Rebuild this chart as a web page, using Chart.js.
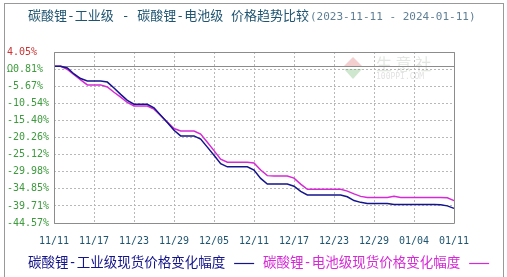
<!DOCTYPE html>
<html>
<head>
<meta charset="utf-8">
<script src="https://cdn.jsdelivr.net/npm/chart.js@4"></script>
<style>
  body { margin: 0; background: #fff; }
  #wrap { position: relative; width: 507px; height: 277px; overflow: hidden; }
  #frame { position: absolute; left: 4px; top: 3px; width: 498px; height: 300px; border: 1px solid #999; }
  canvas { position: absolute; left: 0; top: 0; }
</style>
</head>
<body>
<div id="wrap">
  <div id="frame"></div>
  <canvas id="priceTrend" width="507" height="277"></canvas>
</div>
<script>
// dates (one day missing in early January, as on the reference axis)
const dates = [
    "11/11", "11/12", "11/13", "11/14", "11/15", "11/16", "11/17", "11/18", "11/19", "11/20",
    "11/21", "11/22", "11/23", "11/24", "11/25", "11/26", "11/27", "11/28", "11/29", "11/30",
    "12/01", "12/02", "12/03", "12/04", "12/05", "12/06", "12/07", "12/08", "12/09", "12/10",
    "12/11", "12/12", "12/13", "12/14", "12/15", "12/16", "12/17", "12/18", "12/19", "12/20",
    "12/21", "12/22", "12/23", "12/24", "12/25", "12/26", "12/27", "12/28", "12/29", "12/30",
    "12/31", "01/01", "01/02", "01/03", "01/04", "01/05", "01/06", "01/08", "01/09", "01/10",
    "01/11"
];
// 碳酸锂-工业级 change %
const industrial = [
    0, 0, -0.5, -2.2, -3.5, -4.2, -4.2, -4.2, -4.5, -6.2,
    -8.0, -9.7, -10.8, -10.8, -10.8, -11.8, -13.9, -16.0, -18.2, -19.8,
    -19.8, -19.8, -20.7, -23.0, -25.3, -27.7, -28.6, -28.6, -28.6, -28.6,
    -29.5, -31.9, -33.5, -33.5, -33.5, -33.5, -34.1, -35.6, -36.6, -36.6,
    -36.6, -36.6, -36.6, -36.6, -37.1, -38.2, -38.7, -39.0, -39.0, -39.0,
    -39.0, -39.3, -39.3, -39.3, -39.3, -39.3, -39.3, -39.3, -39.4, -39.7,
    -40.4
];
// 碳酸锂-电池级 change %
const battery = [
    0, 0, -0.9, -2.4, -3.9, -5.3, -5.3, -5.3, -5.9, -7.4,
    -8.8, -10.3, -11.3, -11.3, -11.3, -12.2, -14.0, -15.9, -17.7, -18.4,
    -18.4, -18.4, -19.3, -21.6, -24.0, -26.4, -27.3, -27.3, -27.3, -27.3,
    -27.5, -29.5, -31.1, -31.2, -31.2, -31.2, -31.8, -33.5, -35.0, -35.0,
    -35.0, -35.0, -35.0, -35.0, -35.5, -36.3, -37.0, -37.3, -37.3, -37.3,
    -37.3, -37.0, -37.3, -37.3, -37.3, -37.3, -37.3, -37.3, -37.3, -37.4,
    -38.2
];
const yTicks = [4.05, -0.81, -5.67, -10.54, -15.40, -20.26, -25.12, -29.98, -34.85, -39.71, -44.57];
const yTickLabels = ["4.05%", "Ω0.81%", "-5.67%", "-10.54%", "-15.40%", "-20.26%", "-25.12%", "-29.98%", "-34.85%", "-39.71%", "-44.57%"];
const seriesNames = ["碳酸锂-工业级现货价格变化幅度", "碳酸锂-电池级现货价格变化幅度"];
const titleMain = "碳酸锂-工业级 - 碳酸锂-电池级 价格趋势比较";
const titleRange = "(2023-11-11 - 2024-01-11)";

const navy = "#14148c";
const magenta = "#d62ad6";
const mono = "'DejaVu Sans Mono', monospace";
const mixed = "'DejaVu Sans Mono', 'Noto Sans CJK SC', sans-serif";

// title, legend, frame, zero line and watermark
const decorPlugin = {
    id: "decor",
    beforeDatasetsDraw(chart) {
        const ctx = chart.ctx;
        const area = chart.chartArea;
        const y0 = chart.scales.y.getPixelForValue(0);
        ctx.save();
        // watermark
        ctx.globalAlpha = 0.25;
        ctx.fillStyle = "#d04040";
        ctx.beginPath();
        ctx.moveTo(344, 66); ctx.lineTo(353, 57); ctx.lineTo(362, 66); ctx.closePath(); ctx.fill();
        ctx.fillStyle = "#40a040";
        ctx.beginPath();
        ctx.moveTo(344, 69); ctx.lineTo(362, 69); ctx.lineTo(353, 79); ctx.closePath(); ctx.fill();
        ctx.fillStyle = "#8aa08a";
        ctx.font = "16px 'Noto Sans CJK SC'";
        ctx.textBaseline = "middle";
        ctx.fillText("生 意 社", 376, 64);
        ctx.fillStyle = "#888";
        ctx.font = "8px " + mono;
        ctx.fillText("100PPI.COM", 376, 77);
        ctx.globalAlpha = 1;
        // zero line
        ctx.strokeStyle = "#8c8c8c";
        ctx.lineWidth = 1;
        ctx.beginPath();
        ctx.moveTo(area.left, Math.round(y0) + 0.5);
        ctx.lineTo(area.right, Math.round(y0) + 0.5);
        ctx.stroke();
        ctx.restore();
    },
    afterDraw(chart) {
        const ctx = chart.ctx;
        const area = chart.chartArea;
        ctx.save();
        // plot frame
        ctx.strokeStyle = "#8c8c8c";
        ctx.lineWidth = 1;
        ctx.beginPath();
        ctx.rect(Math.round(area.left) + 0.5, Math.round(area.top) + 0.5,
            Math.round(area.right - area.left), Math.round(area.bottom - area.top));
        ctx.stroke();
        // title
        ctx.textBaseline = "middle";
        ctx.font = "13px " + mixed;
        ctx.fillStyle = "#1f5470";
        ctx.fillText(titleMain, 28, 17);
        const w = ctx.measureText(titleMain).width;
        ctx.font = "11px " + mono;
        ctx.fillStyle = "#5f7f95";
        ctx.fillText(titleRange, 28 + w + 1, 17);
        // legend
        ctx.font = "13.5px " + mixed;
        const legendX = [28, 263];
        const colors = [navy, magenta];
        seriesNames.forEach((name, i) => {
            ctx.fillStyle = colors[i];
            ctx.fillText(name, legendX[i], 263);
            const tw = ctx.measureText(name).width;
            ctx.strokeStyle = colors[i];
            ctx.lineWidth = 1.2;
            ctx.beginPath();
            ctx.moveTo(legendX[i] + tw + 9, 263.5);
            ctx.lineTo(legendX[i] + tw + 29, 263.5);
            ctx.stroke();
        });
        ctx.restore();
    }
};

const ctxTrend = document.getElementById("priceTrend");
new Chart(ctxTrend, {
    type: "line",
    data: {
        labels: dates,
        datasets: [{
            label: seriesNames[0],
            data: industrial,
            borderColor: navy,
            borderWidth: 1.5,
            pointRadius: 0,
            tension: 0,
        }, {
            label: seriesNames[1],
            data: battery,
            borderColor: magenta,
            borderWidth: 1.5,
            pointRadius: 0,
            tension: 0,
        }],
    },
    options: {
        responsive: false,
        animation: false,
        events: [],
        layout: { padding: { left: 7, right: 53, top: 52, bottom: 0 } },
        plugins: {
            legend: { display: false },
            title: { display: false },
            tooltip: { enabled: false },
        },
        scales: {
            x: {
                type: "category",
                offset: false,
                afterFit: (scale) => { scale.height = 54; },
                grid: { color: "#b8b8b8", lineWidth: 1, drawTicks: false },
                border: { display: false, dash: [2, 2] },
                ticks: {
                    autoSkip: false,
                    maxRotation: 0,
                    padding: 12,
                    color: "#1f5470",
                    font: { family: mono, size: 10 },
                    callback: (value, index) => (index % 6 === 0 ? dates[index] : null),
                },
            },
            y: {
                type: "linear",
                min: -44.57,
                max: 4.05,
                afterFit: (scale) => { scale.width = 47; },
                afterBuildTicks: (scale) => { scale.ticks = yTicks.map(v => ({ value: v })); },
                grid: { color: "#b8b8b8", lineWidth: 1, drawTicks: false },
                border: { display: false, dash: [2, 2] },
                ticks: {
                    crossAlign: "far",
                    padding: 4,
                    color: (c) => (c.index === 0 ? "#cc3333" : "#3d9a3d"),
                    font: { family: mono, size: 10 },
                    callback: (value, index) => yTickLabels[index],
                },
            },
        },
    },
    plugins: [decorPlugin],
});
</script>
</body>
</html>
